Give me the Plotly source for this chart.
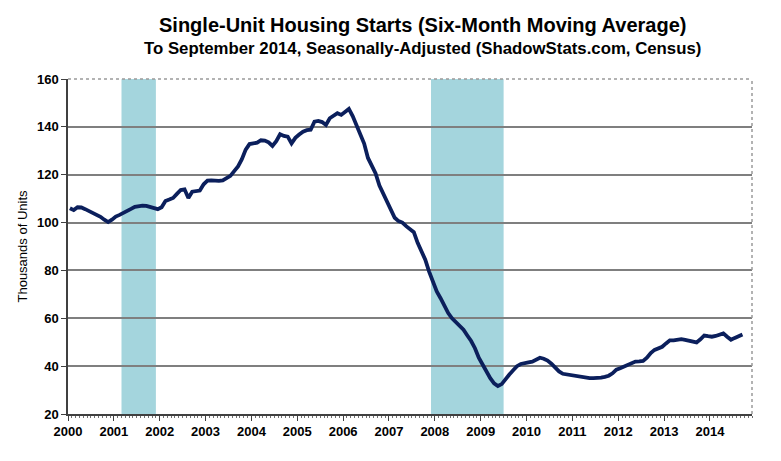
import plotly.graph_objects as go

# Monthly six-month moving average of single-unit housing starts (thousands), Jan 2000 - Sep 2014
start_year = 2000
values = [
    # 2000
    106.0, 105.2, 106.4, 106.3, 105.6, 104.8, 103.9, 103.3, 102.4, 101.2, 100.2, 101.2,
    # 2001
    102.5, 103.2, 103.9, 104.8, 105.7, 106.6, 106.9, 107.1, 107.0, 106.4, 105.9, 105.6,
    # 2002
    106.4, 109.0, 109.6, 110.3, 112.0, 113.6, 113.9, 110.3, 112.9, 113.1, 113.4, 116.0,
    # 2003
    117.5, 117.6, 117.4, 117.4, 117.6, 118.5, 119.5, 121.5, 123.5, 126.5, 130.5, 132.8,
    # 2004
    133.2, 133.4, 134.4, 134.3, 133.5, 132.0, 134.0, 136.9, 136.2, 135.9, 133.1, 135.4,
    # 2005
    136.8, 138.0, 138.6, 138.8, 142.2, 142.5, 142.0, 140.8, 143.6, 144.8, 145.7, 145.0,
    # 2006
    146.2, 147.5, 144.5, 140.8, 136.5, 133.0, 127.0, 123.5, 120.5, 115.5, 112.0, 108.5,
    # 2007
    105.5, 102.0, 100.6, 100.0, 98.5, 97.0, 96.0, 91.5, 88.0, 84.5, 79.5, 75.0,
    # 2008
    71.2, 68.4, 65.0, 62.2, 60.0, 58.5, 56.8, 55.2, 52.8, 50.5, 47.5, 43.5,
    # 2009
    40.7, 37.5, 35.0, 32.8, 31.7, 32.5, 34.8, 36.5, 38.3, 40.0, 40.9, 41.4,
    # 2010
    41.6, 41.9, 42.6, 43.5, 43.1, 42.3, 41.0, 39.1, 37.8, 36.8, 36.5, 36.3,
    # 2011
    36.1, 35.8, 35.4, 35.1, 35.0, 35.0, 35.0, 35.2, 35.5, 36.0, 37.0, 38.5,
    # 2012
    39.1, 39.8, 40.5, 41.2, 41.9, 42.0, 42.2, 43.5, 45.5, 46.8, 47.5, 48.1,
    # 2013
    49.5, 50.8, 50.8, 51.0, 51.3, 51.0, 50.7, 50.3, 49.9, 51.2, 52.8, 52.5,
    # 2014
    52.3, 52.6, 53.3, 53.7, 52.3, 51.0, 51.8, 52.6, 53.2,
]

# Recessions (start month, end month exclusive) in decimal years
recession_starts = [2001 + 2 / 12, 2007 + 11 / 12]
recession_ends = [2001 + 11 / 12, 2009 + 6 / 12]

year_ticks = list(range(2000, 2015))
y_ticks = [20, 40, 60, 80, 100, 120, 140, 160]

title_main = "Single-Unit Housing Starts (Six-Month Moving Average)"
title_sub = "To September 2014, Seasonally-Adjusted (ShadowStats.com, Census)"

# month midpoints (category-style axis)
x = [start_year + (i + 0.5) / 12 for i in range(len(values))]
x_end = 2000 + 179 / 12

fig = go.Figure()

fig.add_trace(go.Scatter(
    x=x, y=values, mode="lines",
    line=dict(color="#0B1F5C", width=3.8),
    hoverinfo="skip", showlegend=False,
))

shapes = []
for s, e in zip(recession_starts, recession_ends):
    shapes.append(dict(type="rect", xref="x", yref="y", x0=s, x1=e, y0=20, y1=160,
                       fillcolor="#A4D5DD", line=dict(width=0), layer="below"))
# top and right borders (dotted gray)
shapes.append(dict(type="line", xref="paper", yref="paper", x0=0, x1=1, y0=1, y1=1,
                   line=dict(color="#9A9A9A", width=1.5, dash="dot")))
shapes.append(dict(type="line", xref="paper", yref="paper", x0=1, x1=1, y0=0, y1=1,
                   line=dict(color="#9A9A9A", width=1.5, dash="dot")))

title_font = "Liberation Sans, Arial"
annotations = [
    dict(text="<b>" + title_main + "</b>", xref="paper", yref="paper",
         x=0.518, y=1, yshift=54, xanchor="center", yanchor="middle", showarrow=False,
         font=dict(family=title_font, size=20, color="black")),
    dict(text="<b>" + title_sub + "</b>", xref="paper", yref="paper",
         x=0.518, y=1, yshift=31, xanchor="center", yanchor="middle", showarrow=False,
         font=dict(family=title_font, size=16.8, color="black")),
]

fig.update_layout(
    width=781, height=461,
    margin=dict(l=68, r=29, t=79, b=47, autoexpand=False),
    paper_bgcolor="white", plot_bgcolor="white",
    shapes=shapes, annotations=annotations,
    font=dict(family="Liberation Sans, Arial", color="black"),
)

fig.update_xaxes(
    range=[2000, x_end], automargin=False,
    tickmode="array", tickvals=year_ticks, ticktext=[str(v) for v in year_ticks],
    tickfont=dict(size=13, family="Liberation Sans, Arial", color="black", weight="bold"),
    showgrid=False, zeroline=False,
    showline=True, linecolor="#404040", linewidth=1.5,
    ticks="outside", ticklen=5, tickcolor="#404040", tickwidth=1,
    minor=dict(dtick=1 / 12, tick0=2000, ticks="outside", ticklen=2, tickcolor="#707070", tickwidth=1),
)
fig.update_yaxes(
    range=[20, 160], automargin=False,
    tickmode="array", tickvals=y_ticks,
    tickfont=dict(size=13, family="Liberation Sans, Arial", color="black", weight="bold"),
    showgrid=True, gridcolor="#7F7F7F", gridwidth=1.5,
    zeroline=False,
    showline=True, linecolor="#404040", linewidth=1.5,
    ticks="outside", ticklen=5, tickcolor="#404040",
    title=dict(text="Thousands of Units", font=dict(size=13, family="Liberation Sans, Arial", color="black"), standoff=6),
)

fig.write_html("out.html", config={"displayModeBar": False},
               post_script="document.body.style.margin='0px';document.body.style.padding='0px';")
